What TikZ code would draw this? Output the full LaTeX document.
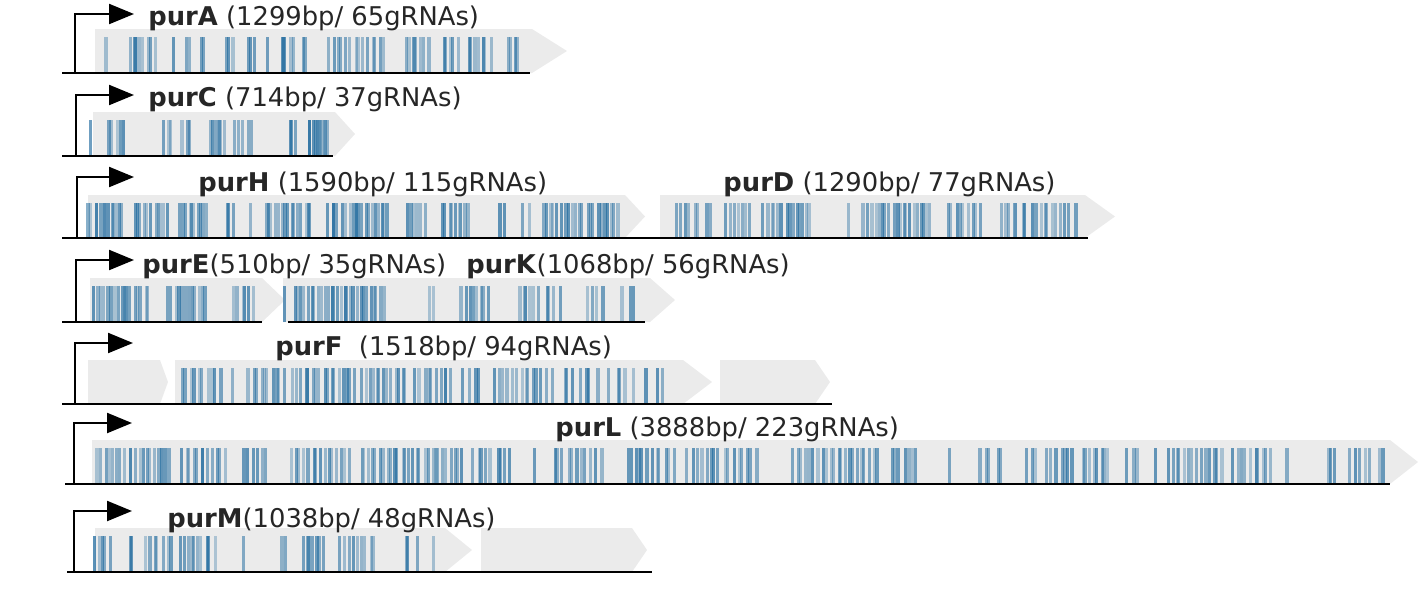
\documentclass[tikz,border=0pt]{standalone}
\usepackage{fontspec}
\setmainfont{DejaVu Sans}
\usetikzlibrary{arrows.meta}
\definecolor{genegray}{HTML}{EBEBEB}
\definecolor{grnablue}{HTML}{1F6A9E}
\definecolor{labelink}{HTML}{262626}
\tikzset{
  genebody/.style={fill=genegray},
  grna/.style={fill=grnablue},
  strand/.style={line width=1.2pt, black},
  promoter/.style={line width=1.1pt, -{Triangle[length=12.5pt,width=10pt]}},
  genelabel/.style={anchor=base west, inner sep=0pt, text=labelink, font=\fontsize{12.9}{15}\selectfont},
}
% gene arrow: x start, x end of body, x tip, top, bottom
\newcommand{\genebox}[5]{\fill[genebody] (#1,#4) -- (#2,#4) -- (#3,{(#4+#5)/2}) -- (#2,#5) -- (#1,#5) -- cycle;}
% gRNA bars: top, bottom, list of x1/x2/count
\newcommand{\grnas}[3]{%
  \foreach \xa/\xb/\cnt in {#3}{%
    \foreach \k in {1,...,\cnt}{%
      \pgfmathsetmacro\bx{\xa+(\k-0.5+1.1*(rnd-0.5))*(\xb-\xa)/\cnt}%
      \pgfmathsetmacro\op{0.3+0.4*rnd}%
      \fill[grna, fill opacity=\op] (\bx-1.6,#1) rectangle (\bx+1.6,#2);
    }}}
\begin{document}
\begin{tikzpicture}[x=0.5pt, y=-0.5pt]
  \useasboundingbox (0,0) rectangle (1418,590);
  \pgfmathsetseed{4211}

  % purA
  \genebox{95}{532}{567}{29}{73}
  \grnas{37}{73}{103/107/1, 128/157/8, 171/175/1, 186/191/2, 199/205/2, 224/234/3, 246/255/3, 265/270/2, 279/296/4, 302/307/2, 327/386/14, 404/429/7, 441/459/5, 466/491/7, 505/521/4}
  \coordinate (sA1) at (62,73); \coordinate (sA2) at (530,73);
  \draw[strand] (sA1) -- (sA2);
  \coordinate (pA) at (75,73); \coordinate (tA) at (134,14);
  \draw[promoter] (pA) |- (tA);
  \node[genelabel] (labA) at (148,25) {\textbf{purA} (1299bp/ 65gRNAs)};

  % purC
  \genebox{93}{335}{355}{112}{156}
  \grnas{120}{156}{89/93/1, 107/127/5, 161/173/3, 182/193/3, 209/225/6, 233/254/5, 289/296/3, 308/329/11}
  \coordinate (sC1) at (62,156); \coordinate (sC2) at (333,156);
  \draw[strand] (sC1) -- (sC2);
  \coordinate (pC) at (76,156); \coordinate (tC) at (134,95);
  \draw[promoter] (pC) |- (tC);
  \node[genelabel] (labC) at (148,106) {\textbf{purC} (714bp/ 37gRNAs)};

  % purH, purD
  \genebox{88}{625}{645}{195}{238}
  \genebox{660}{1085}{1115}{195}{238}
  \grnas{203}{238}{88/124/13, 133/168/12, 179/208/10, 224/235/3, 249/251/1, 264/313/15, 327/389/20, 405/427/6, 441/470/9, 499/508/2, 523/532/2, 541/621/22}
  \grnas{203}{238}{673/712/8, 725/750/7, 763/812/14, 847/850/1, 863/933/20, 945/982/9, 998/1077/18}
  \coordinate (sH1) at (62,238); \coordinate (sH2) at (1088,238);
  \draw[strand] (sH1) -- (sH2);
  \coordinate (pH) at (77,238); \coordinate (tH) at (134,177);
  \draw[promoter] (pH) |- (tH);
  \node[genelabel] (labH) at (198,191) {\textbf{purH} (1590bp/ 115gRNAs)};
  \node[genelabel] (labD) at (723,191) {\textbf{purD} (1290bp/ 77gRNAs)};

  % purE, purK
  \genebox{90}{262}{285}{278}{322}
  \genebox{283}{650}{675}{278}{322}
  \grnas{286}{322}{92/150/17, 166/208/12, 233/255/6}
  \grnas{286}{322}{284/286/1, 293/385/28, 427/434/2, 461/490/8, 516/561/10, 583/603/4, 621/637/3}
  \coordinate (sE1) at (62,322); \coordinate (sE2) at (262,322);
  \coordinate (sK1) at (288,322); \coordinate (sK2) at (645,322);
  \draw[strand] (sE1) -- (sE2) (sK1) -- (sK2);
  \coordinate (pE) at (76,322); \coordinate (tE) at (134,260);
  \draw[promoter] (pE) |- (tE);
  \node[genelabel] (labE) at (142,273) {\textbf{purE}(510bp/ 35gRNAs)};
  \node[genelabel] (labK) at (466,273) {\textbf{purK}(1068bp/ 56gRNAs)};

  % purF
  \genebox{88}{160}{168}{360}{404}
  \genebox{175}{683}{712}{360}{404}
  \genebox{720}{815}{830}{360}{404}
  \grnas{368}{404}{180/223/10, 232/236/1, 248/285/10, 292/356/17, 361/407/13, 415/453/10, 461/481/4, 494/553/14, 560/598/7, 606/637/5, 644/665/3}
  \coordinate (sF1) at (62,404); \coordinate (sF2) at (832,404);
  \draw[strand] (sF1) -- (sF2);
  \coordinate (pF) at (75,404); \coordinate (tF) at (133,343);
  \draw[promoter] (pF) |- (tF);
  \node[genelabel] (labF) at (275,355) {\textbf{purF}\ \ (1518bp/ 94gRNAs)};

  % purL
  \genebox{92}{1390}{1418}{440}{484}
  \grnas{448}{484}{96/172/20, 180/226/12, 241/267/6, 290/351/15, 359/463/28, 471/514/9, 532/535/1, 553/604/12, 624/675/12, 685/759/16, 792/879/22, 889/918/7, 946/950/1, 977/1005/5, 1026/1036/3, 1044/1076/7, 1081/1111/8, 1125/1139/3, 1154/1156/1, 1166/1223/14, 1231/1274/10, 1284/1288/1, 1325/1337/3, 1349/1385/7}
  \coordinate (sL1) at (65,484); \coordinate (sL2) at (1390,484);
  \draw[strand] (sL1) -- (sL2);
  \coordinate (pL) at (74,484); \coordinate (tL) at (132,423);
  \draw[promoter] (pL) |- (tL);
  \node[genelabel] (labL) at (555,436) {\textbf{purL} (3888bp/ 223gRNAs)};

  % purM
  \genebox{95}{445}{472}{528}{572}
  \genebox{481}{632}{647}{528}{572}
  \grnas{536}{572}{91/111/6, 129/134/2, 144/172/7, 178/216/10, 241/244/1, 282/287/2, 302/325/7, 338/377/9, 402/420/3, 433/438/1}
  \coordinate (sM1) at (67,572); \coordinate (sM2) at (652,572);
  \draw[strand] (sM1) -- (sM2);
  \coordinate (pM) at (74,572); \coordinate (tM) at (132,511);
  \draw[promoter] (pM) |- (tM);
  \node[genelabel] (labM) at (167,527) {\textbf{purM}(1038bp/ 48gRNAs)};
\end{tikzpicture}
\end{document}
